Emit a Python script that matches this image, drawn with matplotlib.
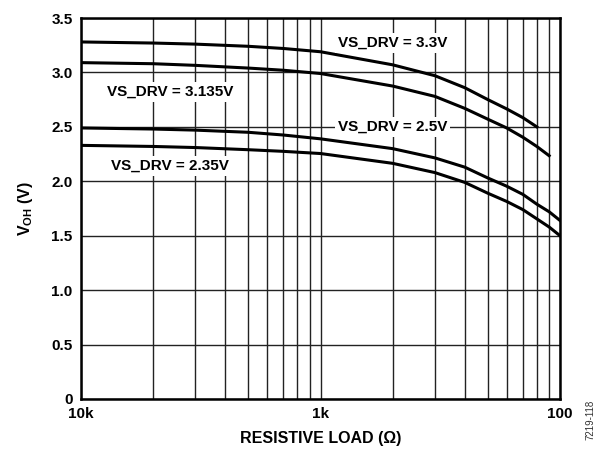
import matplotlib
matplotlib.use("Agg")
import matplotlib.pyplot as plt
from matplotlib.ticker import FixedLocator, NullFormatter

plt.rcParams['font.family'] = ['Liberation Sans', 'DejaVu Sans']
plt.rcParams['mathtext.fontset'] = 'custom'
plt.rcParams['mathtext.rm'] = 'Liberation Sans:bold'
plt.rcParams['mathtext.bf'] = 'Liberation Sans:bold'

# resistive load (ohm) and V_OH (V) per supply
r_33 = [10000, 5000, 3333, 2000, 1429, 1000, 500, 333, 250, 200, 167, 143, 125]
v_33 = [3.28, 3.27, 3.26, 3.24, 3.22, 3.19, 3.07, 2.97, 2.86, 2.75, 2.665, 2.585, 2.50]

r_3135 = [10000, 5000, 3333, 2000, 1429, 1000, 500, 333, 250, 200, 167, 143, 125, 111]
v_3135 = [3.09, 3.08, 3.065, 3.04, 3.02, 2.99, 2.875, 2.78, 2.67, 2.57, 2.49, 2.405, 2.32, 2.235]

r_25 = [10000, 5000, 3333, 2000, 1429, 1000, 500, 333, 250, 200, 167, 143, 125, 111, 100]
v_25 = [2.49, 2.48, 2.47, 2.45, 2.425, 2.39, 2.30, 2.215, 2.13, 2.03, 1.955, 1.88, 1.79, 1.72, 1.64]

r_235 = [10000, 5000, 3333, 2000, 1429, 1000, 500, 333, 250, 200, 167, 143, 125, 111, 100]
v_235 = [2.33, 2.32, 2.31, 2.29, 2.275, 2.255, 2.165, 2.08, 1.99, 1.89, 1.815, 1.74, 1.655, 1.58, 1.50]

y_ticks = [0, 0.5, 1.0, 1.5, 2.0, 2.5, 3.0, 3.5]
y_labels = ['0', '0.5', '1.0', '1.5', '2.0', '2.5', '3.0', '3.5']
x_ticks = [10000, 1000, 100]
x_labels = ['10k', '1k', '100']
# the chart's grid divides each decade as 1/2 ... 1/9 of its upper end
x_grid = [10000 / k for k in range(2, 10)] + [1000 / k for k in range(2, 10)]

fig = plt.figure(figsize=(6.02, 4.5), dpi=100)
ax = fig.add_axes([81 / 602, 1 - 399 / 450, (560 - 81) / 602, (399 - 18) / 450])

ax.set_xscale('log')
ax.set_xlim(10000, 100)
ax.set_ylim(0, 3.5)

ax.xaxis.set_major_locator(FixedLocator(x_ticks))
ax.set_xticklabels(x_labels)
ax.xaxis.set_minor_locator(FixedLocator(x_grid))
ax.xaxis.set_minor_formatter(NullFormatter())
ax.set_yticks(y_ticks)
ax.set_yticklabels(y_labels)

ax.grid(True, which='both', axis='x', color='#222222', lw=1.0)
ax.grid(True, which='major', axis='y', color='#222222', lw=1.0)
ax.tick_params(which='both', length=0, labelsize=11, pad=6)
for lab in ax.get_xticklabels() + ax.get_yticklabels():
    lab.set_fontweight('bold')
for sp in ax.spines.values():
    sp.set_linewidth(1.8)

for r, v in [(r_33, v_33), (r_3135, v_3135), (r_25, v_25), (r_235, v_235)]:
    ax.plot(r, v, color='black', lw=2.2, zorder=3, solid_joinstyle='round')

box = dict(facecolor='white', edgecolor='none', pad=2)
ax.text(500, 3.27, 'VS_DRV = 3.3V', ha='center', va='center', fontsize=11,
        fontweight='bold', bbox=box, zorder=4)
ax.text(4250, 2.82, 'VS_DRV = 3.135V', ha='center', va='center', fontsize=11,
        fontweight='bold', bbox=box, zorder=4)
ax.text(500, 2.50, 'VS_DRV = 2.5V', ha='center', va='center', fontsize=11,
        fontweight='bold', bbox=box, zorder=4)
ax.text(4250, 2.14, 'VS_DRV = 2.35V', ha='center', va='center', fontsize=11,
        fontweight='bold', bbox=box, zorder=4)

ax.set_xlabel('RESISTIVE LOAD (Ω)', fontsize=11.5, fontweight='bold', labelpad=7)
ax.set_ylabel(r'$\mathregular{V_{OH}}$ (V)', fontsize=11.5, fontweight='bold', labelpad=12)

fig.text(590 / 602, 1 - 420 / 450, '7219-118', rotation=90, fontsize=7,
         color='#333333', ha='center', va='center')

fig.savefig('out.png', dpi=100)
